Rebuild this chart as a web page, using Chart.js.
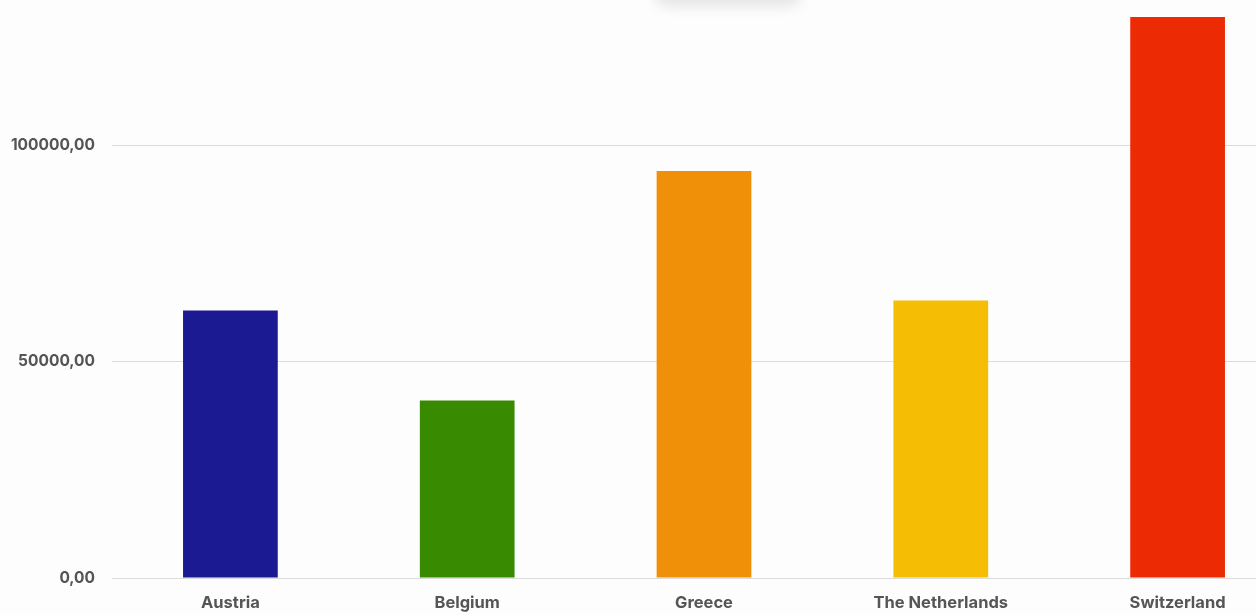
<!DOCTYPE html>
<html>
<head>
<meta charset="utf-8">
<script src="https://cdn.jsdelivr.net/npm/chart.js@4.4.1/dist/chart.umd.min.js"></script>
<style>
  html, body { margin: 0; padding: 0; background: #fdfdfd; overflow: hidden; }
  #wrap { position: relative; width: 1296px; height: 615px; }
  #shade {
    position: absolute; left: 655px; top: -30px; width: 145px; height: 30px;
    background: #fdfdfd; border-radius: 10px;
    box-shadow: 0 6px 14px rgba(0, 0, 0, 0.10);
  }
</style>
</head>
<body>
<div id="wrap">
  <canvas id="chart"></canvas>
  <div id="shade"></div>
</div>
<script>
// countries and values
const countries = ["Austria", "Belgium", "Greece", "The Netherlands", "Switzerland"];
const values = [61800, 41000, 94000, 64100, 129600];
const barColors = ["#1c1a93", "#388a00", "#f09008", "#f5be05", "#ec2a03"];
const yTicks = [0, 50000, 100000];

const fam = "Inter, 'Noto Sans', sans-serif";
const yFont = { family: fam, size: 15.5, weight: "bold" };
const xFont = { family: fam, size: 16.5, weight: "bold" };

function fmt(v) {
  return v.toFixed(2).replace(".", ",");
}

new Chart(document.getElementById("chart"), {
  type: "bar",
  data: {
    labels: countries,
    datasets: [{
      data: values,
      backgroundColor: barColors,
      barPercentage: 0.4,
      categoryPercentage: 1,
    }],
  },
  options: {
    responsive: true,
    maintainAspectRatio: false,
    animation: false,
    layout: { padding: 0 },
    plugins: { legend: { display: false }, tooltip: { enabled: false } },
    scales: {
      x: {
        grid: { display: false, drawTicks: false, tickLength: 0 },
        border: { display: false },
        ticks: { color: "#555", font: xFont, padding: 15, maxRotation: 0 },
        afterFit: (axis) => { axis.height = 37; },
      },
      y: {
        min: 0,
        max: 133500,
        afterBuildTicks: (axis) => { axis.ticks = yTicks.map((v) => ({ value: v })); },
        afterFit: (axis) => { axis.width = 112; axis.paddingTop = 0; },
        grid: { color: "#dcdcdc", drawTicks: false, lineWidth: 1 },
        border: { display: false },
        ticks: {
          color: "#555",
          font: yFont,
          padding: 17,
          callback: (v) => fmt(v),
        },
      },
    },
  },
});
</script>
</body>
</html>
